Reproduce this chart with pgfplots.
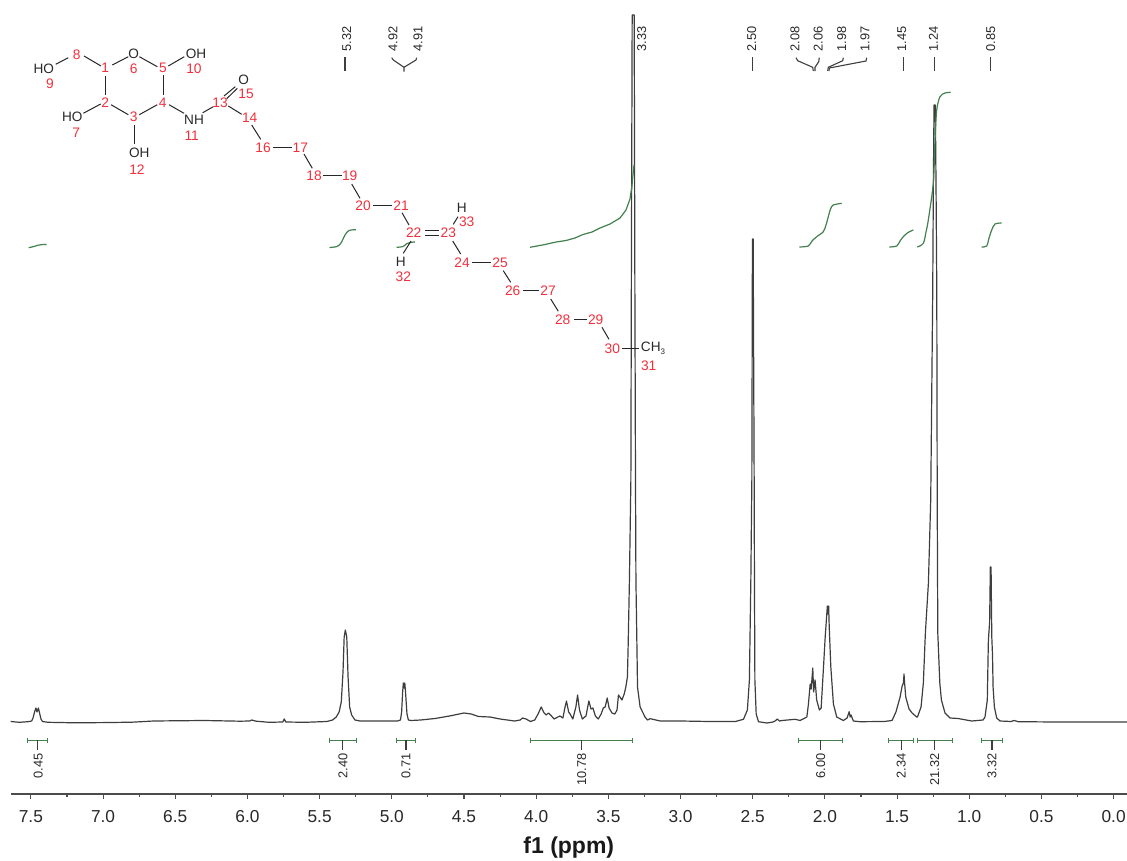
\documentclass[border=0pt]{standalone}
\usepackage{fontspec}
\setmainfont{Liberation Sans}
\usepackage{pgfplots}
\pgfplotsset{compat=1.18}

\definecolor{specline}{RGB}{62,62,62}
\definecolor{intgreen}{RGB}{66,128,78}
\definecolor{atomred}{RGB}{240,48,60}
\definecolor{txtgray}{RGB}{40,40,40}

\pgfplotsset{
  bond/.style={black!85, line width=1pt},
  integ/.style={intgreen, line width=1.2pt, smooth},
  ibar/.style={intgreen, line width=1pt},
  pstem/.style={specline, line width=1.1pt},
}
\tikzset{
  rl/.style={text=atomred, font=\fontsize{13.8}{13.8}\selectfont, inner sep=0pt},
  atm/.style={text=txtgray, font=\fontsize{13.6}{13.6}\selectfont, inner sep=0pt},
  pk/.style={text=txtgray, font=\fontsize{12.8}{12.8}\selectfont, inner sep=0pt, rotate=90},
}

\begin{document}
\begin{tikzpicture}[x=1pt,y=1pt]
\path[use as bounding box] (0,0) rectangle (1127,860);

% spectrum: x in ppm, y = height above the baseline
\begin{axis}[
  at={(10.7pt,66pt)}, anchor=south west,
  scale only axis, width=1116.3pt, height=794pt,
  x dir=reverse,
  xmin=-0.0928, xmax=7.640, ymin=-72, ymax=722,
  axis x line=bottom, axis y line=none,
  axis line style={-, black!70, line width=1.1pt},
  tick style={black!70, line width=1.1pt},
  tick align=outside,
  major tick length=5pt, minor tick length=3pt,
  xtick={0,0.5,1,1.5,2,2.5,3,3.5,4,4.5,5,5.5,6,6.5,7,7.5},
  minor xtick={0.25,0.75,1.25,1.75,2.25,2.75,3.25,3.75,4.25,4.75,5.25,5.75,6.25,6.75,7.25},
  ytick=\empty,
  xticklabel style={
    /pgf/number format/assume math mode=true,
    /pgf/number format/fixed, /pgf/number format/fixed zerofill,
    /pgf/number format/precision=1,
    font=\fontsize{17.3}{17.3}\selectfont, text=txtgray, yshift=-8pt},
  clip=false,
]
\addplot[specline, line width=1.2pt, line join=round] coordinates {
(7.64,0.5)(7.58,-0.3)(7.52,0.3)(7.495,1)(7.485,4)(7.475,10)(7.465,14)(7.458,10)(7.448,14)(7.44,9)(7.43,3)(7.42,0.5)
(7.38,-0.3)(7.2,-0.8)(7.0,-0.6)(6.8,-0.2)(6.65,1)(6.3,1.5)(6.05,0.8)(5.985,1)(5.97,2)(5.94,0.8)(5.85,-0.3)(5.755,0)(5.745,3)(5.735,0)
(5.6,-0.3)(5.45,0.5)(5.41,2)(5.385,5)(5.365,10)(5.35,20)(5.338,50)(5.33,85)(5.322,92)(5.312,85)(5.303,45)(5.292,15)(5.278,7)(5.255,2)(5.22,1)
(5.1,1)(4.96,1)(4.94,2)(4.932,10)(4.925,30)(4.92,39)(4.915,34)(4.91,39)(4.905,30)(4.895,8)(4.885,2)(4.865,1.5)
(4.8,2)(4.7,3.5)(4.6,6)(4.5,9)(4.45,8)(4.40,5.5)(4.32,5)(4.25,3)(4.15,1)(4.11,2)(4.095,4)(4.07,3)(4.04,0.5)(4.01,2)
(3.987,8)(3.965,15)(3.945,9)(3.93,7)(3.915,9)(3.90,7)(3.876,3)(3.85,5)(3.835,6)(3.815,4)(3.80,15)(3.79,21)(3.775,10)(3.765,8)(3.746,3)
(3.725,15)(3.713,27)(3.70,12)(3.68,3)(3.655,6)(3.635,21)(3.62,13)(3.607,14)(3.59,6)(3.57,3)(3.55,8)(3.535,14)(3.522,15)(3.508,24)(3.495,14)(3.475,9)(3.455,8)
(3.44,12)(3.43,27)(3.415,24)(3.406,22)(3.39,28)(3.379,35)(3.368,45)(3.363,75)(3.354,142)(3.344,242)(3.341,420)
(3.335,707)(3.321,707)(3.316,420)(3.312,242)(3.309,142)(3.302,75)(3.298,35)(3.28,15)(3.246,5)(3.229,2)(3.21,3.3)(3.141,1)(3.0,1)(2.8,0.5)(2.62,0.5)
(2.564,2.7)(2.537,12)(2.523,42)(2.513,142)(2.506,242)(2.502,483)(2.497,483)(2.49,242)(2.488,142)(2.485,42)(2.476,8)(2.46,0.3)(2.402,-1)(2.36,0)(2.345,1)(2.33,3)(2.315,1)(2.297,1.5)(2.206,2.7)
(2.172,1.5)(2.125,5)(2.114,18)(2.102,38)(2.095,33)(2.084,54)(2.078,30)(2.068,42)(2.057,22)(2.038,12)(2.026,14)(2.01,54)(1.998,85)(1.983,116)(1.978,108)(1.974,116)(1.97,95)
(1.959,55)(1.941,18)(1.918,5)(1.872,1.5)(1.846,4)(1.832,10.3)(1.825,5)(1.819,7)(1.803,1)(1.757,0.3)(1.59,0.5)(1.535,1.5)(1.508,10)(1.479,25)(1.465,36)(1.456,39)(1.452,48)(1.448,39)(1.44,25)(1.417,13)(1.396,9)
(1.364,5)(1.359,5)(1.334,15)(1.318,39)(1.304,89)(1.283,139)(1.267,222)(1.253,432)(1.249,532)(1.244,617)(1.235,617)(1.23,532)(1.225,432)(1.222,222)(1.218,89)(1.204,39)(1.193,22)(1.168,9)(1.133,4)(1.078,3.5)(0.983,1)
(0.904,2)(0.891,5)(0.875,22)(0.868,79)(0.866,85)(0.859,100)(0.854,155)(0.849,155)(0.844,85)(0.839,67)(0.835,35)(0.826,15)(0.81,4)(0.787,1)(0.71,0.5)(0.69,1.5)(0.66,0.3)(0.4,0)(0.1,0)(-0.0928,0)
};
\end{axis}

% annotations on a second axis in picture pixels
\begin{axis}[
  at={(0pt,0pt)}, anchor=south west,
  scale only axis, width=1127pt, height=860pt,
  xmin=0, xmax=1127, ymin=0, ymax=860, y dir=reverse,
  hide axis, clip=false,
]
% integral curves
\addplot[integ] coordinates {(28.7,247.7)(34,246.5)(38,245.2)(42,244.6)(46.7,244.4)};
\addplot[integ] coordinates {(329.5,247.5)(337,246.5)(341,243)(345,235)(349,230.5)(356,229.7)};
\addplot[integ] coordinates {(396.7,247.3)(403,246.5)(407,243.5)(411,242.3)(415,242)};
\addplot[intgreen, line width=1.2pt, line join=round] coordinates {(530,247.3)(545,244.5)(556,242)(566,240.5)(575,238)(583,234.5)(592,232)(600,228)(610,224)(620,218)(626,210)(630,199)(632,185)(634,165)};
\addplot[integ] coordinates {(799.3,247)(808.3,246)(812,241)(816.7,236.7)(823.3,231.7)(826,225)(828.3,216.7)(830.5,209)(833.3,205)(841.7,203.3)};
\addplot[integ] coordinates {(889.3,247)(896.7,246)(900,241)(903.3,236.7)(908,232.5)(913.3,230)};
\addplot[integ] coordinates {(917.3,247)(923.3,243.3)(926,232)(928.3,220)(933.3,183)(935,140)(936.7,110)(940,96.7)(945,93)(950.7,92.3)};
\addplot[integ] coordinates {(981.7,247)(986.7,246)(989,238)(991.7,230)(995,224)(1001.7,223)};

% integral brackets below the baseline
\addplot[ibar] coordinates {(27.9,740.3)(47.5,740.3)};
\addplot[ibar] coordinates {(329,740.3)(356.4,740.3)};
\addplot[ibar] coordinates {(396.4,740.3)(415.7,740.3)};
\addplot[ibar] coordinates {(530,740.3)(632.8,740.3)};
\addplot[ibar] coordinates {(798.8,740.3)(842.8,740.3)};
\addplot[ibar] coordinates {(888.8,740.3)(913.6,740.3)};
\addplot[ibar] coordinates {(917.6,740.3)(952,740.3)};
\addplot[ibar] coordinates {(981.6,740.3)(1002.8,740.3)};
\addplot[ibar] coordinates {(27.9,737.6)(27.9,743)};
\addplot[ibar] coordinates {(47.5,737.6)(47.5,743)};
\addplot[ibar] coordinates {(329,737.6)(329,743)};
\addplot[ibar] coordinates {(356.4,737.6)(356.4,743)};
\addplot[ibar] coordinates {(396.4,737.6)(396.4,743)};
\addplot[ibar] coordinates {(415.7,737.6)(415.7,743)};
\addplot[ibar] coordinates {(530,737.6)(530,743)};
\addplot[ibar] coordinates {(632.8,737.6)(632.8,743)};
\addplot[ibar] coordinates {(798.8,737.6)(798.8,743)};
\addplot[ibar] coordinates {(842.8,737.6)(842.8,743)};
\addplot[ibar] coordinates {(888.8,737.6)(888.8,743)};
\addplot[ibar] coordinates {(913.6,737.6)(913.6,743)};
\addplot[ibar] coordinates {(917.6,737.6)(917.6,743)};
\addplot[ibar] coordinates {(952,737.6)(952,743)};
\addplot[ibar] coordinates {(981.6,737.6)(981.6,743)};
\addplot[ibar] coordinates {(1002.8,737.6)(1002.8,743)};
\addplot[pstem] coordinates {(37.9,740.3)(37.9,750)};
\addplot[pstem] coordinates {(342.9,740.3)(342.9,750)};
\addplot[pstem] coordinates {(406,740.3)(406,750)};
\addplot[pstem] coordinates {(581.6,740.3)(581.6,750)};
\addplot[pstem] coordinates {(820.8,740.3)(820.8,750)};
\addplot[pstem] coordinates {(901.2,740.3)(901.2,750)};
\addplot[pstem] coordinates {(934.8,740.3)(934.8,750)};
\addplot[pstem] coordinates {(992,740.3)(992,750)};
\node[pk, anchor=east] at (axis cs:38.2,753) {0.45};
\node[pk, anchor=east] at (axis cs:342.9,753) {2.40};
\node[pk, anchor=east] at (axis cs:406,753) {0.71};
\node[pk, anchor=east] at (axis cs:581.6,753) {10.78};
\node[pk, anchor=east] at (axis cs:820.8,753) {6.00};
\node[pk, anchor=east] at (axis cs:901.2,753) {2.34};
\node[pk, anchor=east] at (axis cs:934.8,753) {21.32};
\node[pk, anchor=east] at (axis cs:992,753) {3.32};

% peak picks at the top
\node[pk, anchor=west] at (axis cs:346.7,51.5) {5.32};
\node[pk, anchor=west] at (axis cs:393,51.5) {4.92};
\node[pk, anchor=west] at (axis cs:418,51.5) {4.91};
\node[pk, anchor=west] at (axis cs:641.7,51.5) {3.33};
\node[pk, anchor=west] at (axis cs:751.7,51.5) {2.50};
\node[pk, anchor=west] at (axis cs:795,51.5) {2.08};
\node[pk, anchor=west] at (axis cs:818.3,51.5) {2.06};
\node[pk, anchor=west] at (axis cs:841.7,51.5) {1.98};
\node[pk, anchor=west] at (axis cs:865,51.5) {1.97};
\node[pk, anchor=west] at (axis cs:901.7,51.5) {1.45};
\node[pk, anchor=west] at (axis cs:933.3,51.5) {1.24};
\node[pk, anchor=west] at (axis cs:990.7,51.5) {0.85};
\addplot[pstem] coordinates {(345,57)(345,71)};
\addplot[pstem] coordinates {(752.7,57)(752.7,71)};
\addplot[pstem] coordinates {(903.3,57)(903.3,71)};
\addplot[pstem] coordinates {(934.7,57)(934.7,71)};
\addplot[pstem] coordinates {(990.7,57)(990.7,71)};
\addplot[pstem] coordinates {(391.7,57.7)(393.3,60)(404,67.3)(404,71.7)};
\addplot[pstem] coordinates {(416.7,57.7)(416,60)(404,67.3)};
\addplot[pstem] coordinates {(796,57.7)(797.7,60.7)(812.7,67.3)(813.3,71)};
\addplot[pstem] coordinates {(819.3,57.7)(818.7,61.7)(815,67.3)(815,71)};
\addplot[pstem] coordinates {(843.3,57.7)(842.7,60.7)(828.3,67.3)(827.7,71)};
\addplot[pstem] coordinates {(866.7,57.7)(866,61)(829.3,68)(829,71)};

% molecule bonds
\addplot[bond] coordinates {(55.7,64.3)(68.3,57.7)};
\addplot[bond] coordinates {(84,56)(101,66)};
\addplot[bond] coordinates {(112.3,65)(128.3,56.7)};
\addplot[bond] coordinates {(139.3,56.7)(157.3,66.7)};
\addplot[bond] coordinates {(168.3,66)(184.3,56.7)};
\addplot[bond] coordinates {(105.7,75.7)(105.7,95.3)};
\addplot[bond] coordinates {(163.7,75)(163.7,95)};
\addplot[bond] coordinates {(83.3,113.3)(100.7,104)};
\addplot[bond] coordinates {(111,104.7)(128.3,114.7)};
\addplot[bond] coordinates {(139.3,114.7)(157.3,104.7)};
\addplot[bond] coordinates {(134.7,125)(134.7,144.3)};
\addplot[bond] coordinates {(169,104.7)(184,113.3)};
\addplot[bond] coordinates {(202.7,112.7)(213.3,106.7)};
\addplot[bond] coordinates {(224,96)(235.3,86.7)};
\addplot[bond] coordinates {(226.7,98.7)(237.3,88.3)};
\addplot[bond] coordinates {(228.3,106)(241.7,114.3)};
\addplot[bond] coordinates {(251.7,125)(260.7,139.3)};
\addplot[bond] coordinates {(272.7,147)(291.7,147)};
\addplot[bond] coordinates {(304,154)(312.3,168.3)};
\addplot[bond] coordinates {(323.3,175.7)(342.3,175.7)};
\addplot[bond] coordinates {(351.7,184)(360,198.3)};
\addplot[bond] coordinates {(373.3,205.3)(391.7,205.3)};
\addplot[bond] coordinates {(402,212.7)(409,225)};
\addplot[bond] coordinates {(425.3,230.7)(439.3,230.7)};
\addplot[bond] coordinates {(425.3,235.3)(439.3,235.3)};
\addplot[bond] coordinates {(411,241)(403.3,253.3)};
\addplot[bond] coordinates {(453.3,224.3)(458,216.7)};
\addplot[bond] coordinates {(452.7,241)(460.7,254)};
\addplot[bond] coordinates {(472.3,262)(490.7,262)};
\addplot[bond] coordinates {(503.3,270.7)(510.7,282.3)};
\addplot[bond] coordinates {(522.7,290.7)(539,290.7)};
\addplot[bond] coordinates {(550.7,299)(558.3,311.3)};
\addplot[bond] coordinates {(574,319.7)(586.7,319.7)};
\addplot[bond] coordinates {(602,327.3)(609,339.3)};
\addplot[bond] coordinates {(622,348.3)(639,348.3)};

% atom symbols
\node[atm] at (axis cs:133.7,54.3) {O};
\node[atm] at (axis cs:196,54) {OH};
\node[atm] at (axis cs:43.7,69.3) {HO};
\node[atm] at (axis cs:72.3,117.3) {HO};
\node[atm] at (axis cs:139.3,153.3) {OH};
\node[atm] at (axis cs:194,120) {NH};
\node[atm] at (axis cs:243.7,80.3) {O};
\node[atm] at (axis cs:461.7,208.3) {H};
\node[atm] at (axis cs:400.7,262) {H};
\node[atm] at (axis cs:653,348.3) {CH\raisebox{-3pt}{\fontsize{8}{8}\selectfont 3}};

% atom numbers
\node[rl] at (axis cs:105.3,67.7) {1};
\node[rl] at (axis cs:105.3,103) {2};
\node[rl] at (axis cs:133.7,116.7) {3};
\node[rl] at (axis cs:162.7,103) {4};
\node[rl] at (axis cs:163,67.7) {5};
\node[rl] at (axis cs:133.7,68.7) {6};
\node[rl] at (axis cs:76.3,132.3) {7};
\node[rl] at (axis cs:76.7,54.3) {8};
\node[rl] at (axis cs:50,83.3) {9};
\node[rl] at (axis cs:194,68.7) {10};
\node[rl] at (axis cs:191.7,135.3) {11};
\node[rl] at (axis cs:137,169.7) {12};
\node[rl] at (axis cs:220,103) {13};
\node[rl] at (axis cs:249.7,117.7) {14};
\node[rl] at (axis cs:246,94.3) {15};
\node[rl] at (axis cs:263,147.3) {16};
\node[rl] at (axis cs:300.3,147.3) {17};
\node[rl] at (axis cs:314,175.3) {18};
\node[rl] at (axis cs:349.7,175.3) {19};
\node[rl] at (axis cs:363,205.3) {20};
\node[rl] at (axis cs:401,205.3) {21};
\node[rl] at (axis cs:413.7,233) {22};
\node[rl] at (axis cs:448.3,233) {23};
\node[rl] at (axis cs:462,262.3) {24};
\node[rl] at (axis cs:500,262.3) {25};
\node[rl] at (axis cs:512.7,291) {26};
\node[rl] at (axis cs:548,291) {27};
\node[rl] at (axis cs:562.7,319.7) {28};
\node[rl] at (axis cs:595.7,319.7) {29};
\node[rl] at (axis cs:612.3,348.3) {30};
\node[rl] at (axis cs:648.7,365.3) {31};
\node[rl] at (axis cs:403.3,276.7) {32};
\node[rl] at (axis cs:466.7,221.3) {33};

% axis title
\node[text=black!90, font=\fontsize{23}{23}\selectfont\bfseries, inner sep=0pt] at (axis cs:568.8,848) {f1 (ppm)};
\end{axis}
\end{tikzpicture}
\end{document}
